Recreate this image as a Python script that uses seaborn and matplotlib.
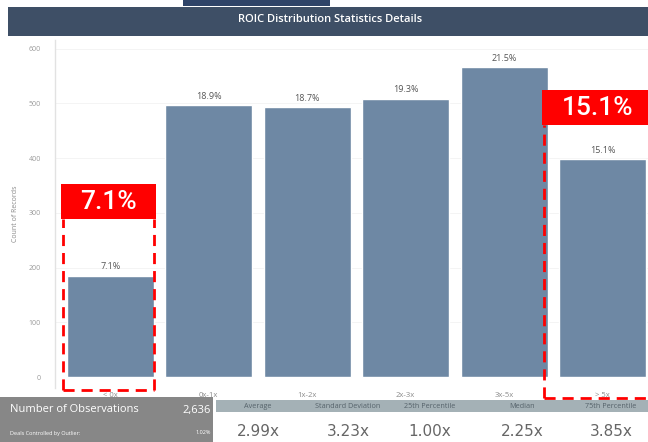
import matplotlib
matplotlib.use("Agg")
import pandas as pd
import seaborn as sns
import matplotlib.pyplot as plt
from matplotlib.patches import Rectangle

# dados
categorias = ["< 0x", "0x-1x", "1x-2x", "2x-3x", "3x-5x", "> 5x"]
contagens = [185, 497, 493, 509, 566, 398]
rotulos_pct = ["7.1%", "18.9%", "18.7%", "19.3%", "21.5%", "15.1%"]
y_ticks = [0, 100, 200, 300, 400, 500, 600]

estat_nomes = ["Average", "Standard Deviation", "25th Percentile", "Median", "75th Percentile"]
estat_valores = ["2.99x", "3.23x", "1.00x", "2.25x", "3.85x"]
n_obs = "2,636"
outlier_pct = "1.02%"

df = pd.DataFrame({"faixa": categorias, "qtd": contagens})

sns.set_theme(style="white")
plt.rcParams["font.family"] = ["Open Sans", "DejaVu Sans"]

W, H = 648, 442
fig = plt.figure(figsize=(W / 100, H / 100), dpi=100)
fig.patch.set_facecolor("white")


def px(x0, y0, x1, y1):
    # caixa em pixels (origem no topo) -> coordenadas da figura
    return [x0 / W, 1 - y1 / H, (x1 - x0) / W, (y1 - y0) / H]


# faixa do título
fig.add_artist(Rectangle((183 / W, 1 - 6 / H), 147 / W, 6 / H, transform=fig.transFigure,
                         color="#2f4468", lw=0))
fig.add_artist(Rectangle((8 / W, 1 - 36 / H), 640 / W, 29 / H, transform=fig.transFigure,
                         color="#3e4f66", lw=0))
fig.text(330 / W, 1 - 20 / H, "ROIC Distribution Statistics Details", color="white",
         ha="center", va="center", fontsize=8, fontweight="semibold")

# gráfico principal
ax = fig.add_axes(px(55, 40, 648, 388))
sns.barplot(data=df, x="faixa", y="qtd", color="#6e88a4", width=0.88, saturation=1,
            ax=ax, zorder=2)
ax.set_ylim(-20, 616)
ax.set_xlim(-0.56, 5.46)
ax.set_yticks(y_ticks)
ax.set_yticklabels([str(t) for t in y_ticks])
ax.tick_params(axis="y", labelsize=5, colors="#9a9a9a", length=0, pad=10)
ax.tick_params(axis="x", labelsize=5.5, colors="#8a8a8a", length=0, pad=3)
ax.set_xlabel("")
ax.set_ylabel("Count of Records", fontsize=5, color="#8a8a8a", labelpad=7)
for t in y_ticks[1:]:
    ax.axhline(t, color="#f3f3f3", lw=0.6, zorder=0)
for s in ["top", "right", "bottom"]:
    ax.spines[s].set_visible(False)
ax.spines["left"].set_color("#e2e2e2")
ax.spines["left"].set_linewidth(1)

for i, (v, lab) in enumerate(zip(contagens, rotulos_pct)):
    ax.text(i, v + 8, lab, ha="center", va="bottom", fontsize=6.5, color="#555555")

# destaques em vermelho
def destaque(x0, x1, y0, y1, caixa_topo, texto):
    kw = dict(color="#ff0000", lw=2, ls=(0, (4, 2.5)), clip_on=False, zorder=5)
    ax.plot([x0, x0], [y0, y1], **kw)
    ax.plot([x1, x1], [y0, y1], **kw)
    ax.plot([x0, x1], [y0, y0], **kw)
    ax.add_patch(Rectangle((x0 - 0.02, y1), x1 - x0 + 0.04, caixa_topo - y1,
                           color="#ff0000", lw=0, clip_on=False, zorder=6))
    ax.text((x0 + x1) / 2, (y1 + caixa_topo) / 2, texto, color="white", fontsize=19,
            fontweight="medium", ha="center", va="center", zorder=7,
            family=["Roboto", "DejaVu Sans"])


destaque(-0.48, 0.45, -24, 288, 352, rotulos_pct[0])
destaque(4.4, 5.5, -38, 460, 524, rotulos_pct[5])

# painel inferior
fig.add_artist(Rectangle((0, 0), 213 / W, 45 / H, transform=fig.transFigure,
                         color="#878787", lw=0, zorder=8))
fig.text(10 / W, 1 - 410 / H, "Number of Observations", color="white", fontsize=8,
         va="center", zorder=9)
fig.text(211 / W, 1 - 410 / H, n_obs, color="white", fontsize=8, va="center",
         ha="right", zorder=9)
fig.text(10 / W, 1 - 433 / H, "Deals Controlled by Outlier:", color="white", fontsize=4,
         va="center", zorder=9)
fig.text(211 / W, 1 - 433 / H, outlier_pct, color="white", fontsize=4, va="center",
         ha="right", zorder=9)

fig.add_artist(Rectangle((216 / W, 1 - 412 / H), 432 / W, 12 / H, transform=fig.transFigure,
                         color="#a4b1b6", lw=0, zorder=8))
pos_x = [258, 348, 430, 522, 611]
for x, nome, val in zip(pos_x, estat_nomes, estat_valores):
    fig.text(x / W, 1 - 406 / H, nome, color="#55626a", fontsize=5.2, ha="center",
             va="center", zorder=9)
    fig.text(x / W, 1 - 431 / H, val, color="#666666", fontsize=11, ha="center",
             va="center", zorder=9, family=["DejaVu Sans"])

plt.savefig("out.png", dpi=100)
